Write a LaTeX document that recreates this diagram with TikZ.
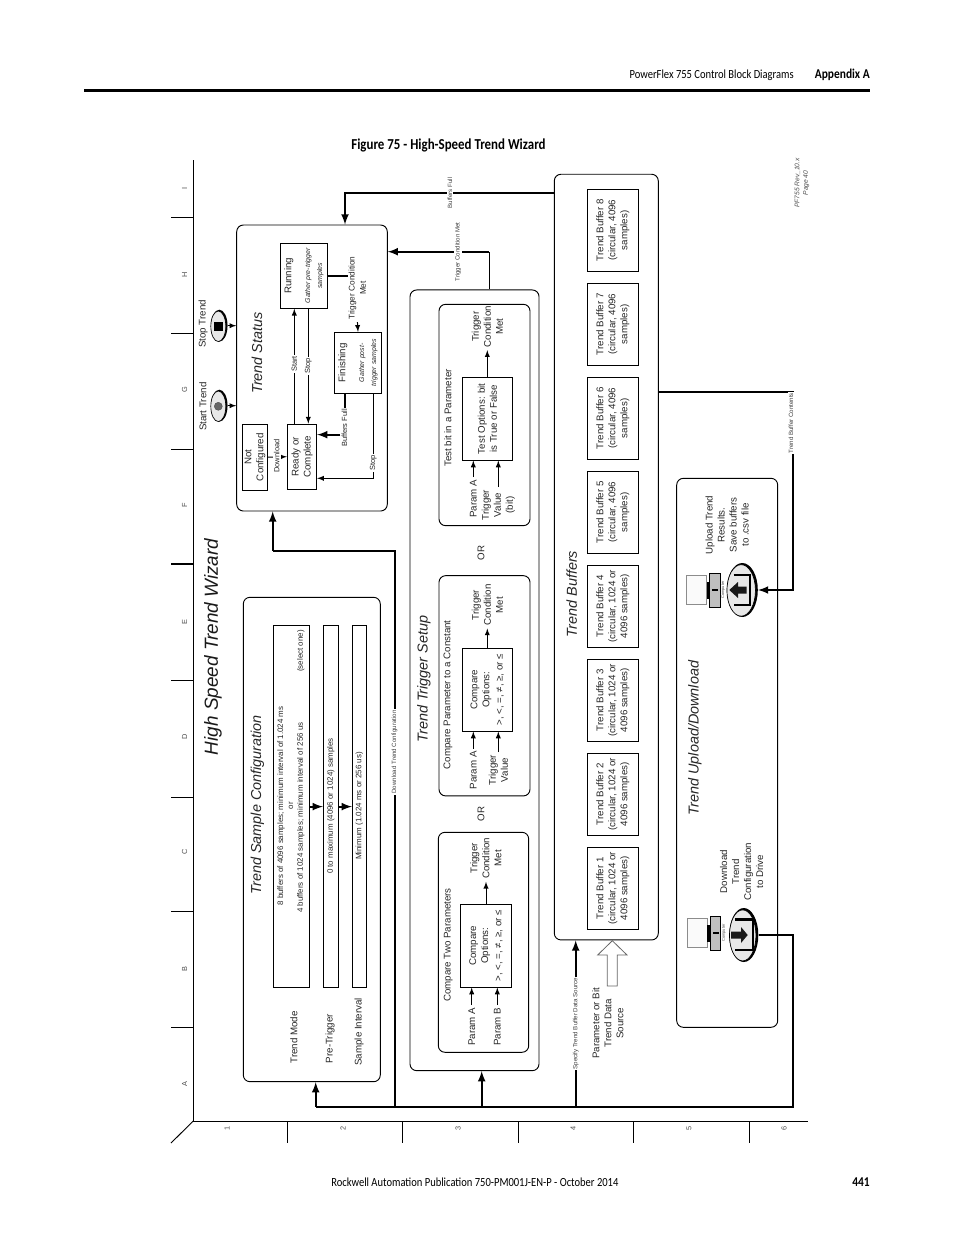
\documentclass[tikz,border=0pt]{standalone}
\usepackage{fontspec}
\setmainfont{Liberation Sans}
\newfontfamily\pagefont[FakeStretch=0.85]{Carlito}
\usetikzlibrary{shapes.geometric}
\newcommand{\gatherfont}{\fontsize{5.2}{6.8}\selectfont\itshape}

\tikzset{
  boxdim/.style 2 args={minimum width=#1*0.75pt, minimum height=#2*0.75pt},
  panel/.style={draw, rotate=90, rounded corners=5pt, line width=0.7pt},
  stepbox/.style={draw, rotate=90, align=center, inner sep=0pt, line width=0.7pt, text=black!85, font=\fontsize{7.3}{9}\selectfont},
  txt/.style={rotate=90, align=center, inner sep=0pt, text=black!85, font=\fontsize{7.3}{9}\selectfont},
  heading/.style={rotate=90, inner sep=0pt, text=black!85, font=\fontsize{10.8}{13}\selectfont\itshape},
  tag/.style={rotate=90, align=center, inner sep=0.8pt, fill=white, text=black!85, font=\fontsize{5.6}{7}\selectfont},
  modetxt/.style={rotate=90, inner sep=0pt, text=black!85, font=\fontsize{5.95}{7}\selectfont},
  smalltag/.style={rotate=90, inner sep=0.8pt, fill=white, text=black!75, font=\fontsize{4.6}{6}\selectfont},
  grid/.style={rotate=90, inner sep=0pt, text=black!70, font=\fontsize{5.5}{7}\selectfont},
  pagetxt/.style={inner sep=0pt, font=\pagefont\fontsize{9.3}{11}\selectfont},
  pagebold/.style={inner sep=0pt, font=\pagefont\bfseries\fontsize{10.1}{12}\selectfont},
  flow/.style={line width=0.75pt, -latex},
  gapflow/.style={line width=0.75pt, -latex, shorten <=1.8pt},
  wire/.style={line width=1.6pt},
  bigflow/.style={line width=1.6pt, -latex},
  btnback/.style={ellipse, fill=black, inner sep=0pt},
  btnface/.style={ellipse, draw, fill=black!9, line width=0.5pt, inner sep=0pt},
  glyph/.style={fill=black!90, draw=none},
}

\begin{document}
\begin{tikzpicture}[x=0.75pt, y=-0.75pt]
\useasboundingbox (0,0) rectangle (954,1235);

% page furniture
\node[pagetxt, anchor=east] (hdr) at (794,75) {PowerFlex 755 Control Block Diagrams};
\node[pagebold, anchor=east] (app) at (870,75) {Appendix A};
\coordinate (ruleL) at (84,90.5);
\coordinate (ruleR) at (870,90.5);
\draw[line width=2.7pt] (ruleL) -- (ruleR);
\node[pagebold, font=\pagefont\bfseries\fontsize{11.4}{13}\selectfont] (figtitle) at (448.5,145) {Figure 75 - High-Speed Trend Wizard};
\node[pagetxt, anchor=west] (ftr) at (331,1182) {Rockwell Automation Publication 750-PM001J-EN-P - October 2014};
\node[pagebold, anchor=east] (pgno) at (870,1182) {441};

% grid frame
\coordinate (org) at (193.3,1121);
\draw[line width=0.7pt] (193.3,160) -- (org) -- (807.5,1121);
\draw[line width=0.7pt] (org) -- (171,1143);
\foreach \ty in {217.7,333,449,680,797,911,1027}
  \draw[line width=0.7pt] (171,\ty) -- (193.3,\ty);
\draw[line width=1.2pt] (171,564) -- (193.3,564);
\foreach \tx in {287.3,402.3,518.3,633.3,749.3}
  \draw[line width=0.7pt] (\tx,1121) -- (\tx,1143);
\foreach \gl/\gy in {I/188,H/275,G/390,F/505,E/622,D/737,C/852,B/969,A/1084}
  \node[grid] (row\gl) at (184.5,\gy) {\gl};
\foreach \gl/\gx in {1/227,2/343,3/458,4/573,5/689,6/784}
  \node[grid] (col\gl) at (\gx,1128) {\gl};

\node[rotate=90, inner sep=0pt, text=black!90, font=\fontsize{14.2}{17}\selectfont\itshape] (wiztitle) at (213,647) {High Speed Trend Wizard};
\node[rotate=90, align=center, inner sep=0pt, text=black!70, font=\fontsize{5}{6.5}\selectfont\itshape] (revtag) at (802,183) {PF755 Rev\_10.x\\Page 40};

% panels
\node[panel, boxdim={286}{150.6}] (pstatus) at (312,368) {};
\node[panel, boxdim={484.4}{137}] (psample) at (311.8,839.5) {};
\node[panel, boxdim={780.7}{129}] (ptrigger) at (474.5,680.3) {};
\node[panel, boxdim={765.7}{104}] (pbuffers) at (606.3,557.1) {};
\node[panel, boxdim={549}{101}] (pupload) at (727.2,752.8) {};
\node[panel, boxdim={221.4}{91}] (ptestbit) at (484.5,415) {};
\node[panel, boxdim={220.3}{91}] (pconst) at (484.5,685.8) {};
\node[panel, boxdim={220}{90.4}] (ptwo) at (483.5,942.3) {};

\node[heading] (hstatus) at (257,353) {Trend Status};
\node[heading] (hsample) at (257.3,804.7) {Trend Sample Configuration};
\node[heading] (htrigger) at (424,679) {Trend Trigger Setup};
\node[heading] (hbuffers) at (571.7,594) {Trend Buffers};
\node[heading] (hupload) at (695,738) {Trend Upload/Download};

% trend status
\node[txt] (lblstart) at (203,406.7) {Start Trend};
\node[txt] (lblstop) at (203,324) {Stop Trend};
\node[btnback, boxdim={16.5}{32}] (startb) at (219.3,405.7) {};
\node[btnface, boxdim={15}{30.5}] (startf) at (218.3,406.3) {};
\node[btnback, boxdim={16.5}{32}] (stopb) at (219.3,325.7) {};
\node[btnface, boxdim={15}{30.5}] (stopf) at (218.3,326.3) {};
\node[circle, fill=black!60, draw=black!70, line width=0.3pt, minimum size=6pt, inner sep=0pt] (startdot) at (218.3,406.3) {};
\node[rectangle, fill=black, minimum width=6.8pt, minimum height=7pt, inner sep=0pt] (stopsq) at (218.5,326.7) {};
\draw[flow] (startb.east) -- (startb.east -| pstatus.north);
\draw[flow] (stopb.east) -- (stopb.east -| pstatus.north);

\node[stepbox, boxdim={65.7}{25.4}] (notcfg) at (255,457.2) {Not\\Configured};
\node[stepbox, boxdim={65.3}{29.4}] (ready) at (302,456.7) {Ready or\\Complete};
\node[stepbox, boxdim={65}{47.4}] (running) at (304,275.8) {Running\\[5pt]\gatherfont Gather pre-trigger\\\gatherfont samples};
\node[stepbox, boxdim={61}{47.4}] (finishing) at (358,362.8) {Finishing\\[5pt]\gatherfont Gather post-\\\gatherfont trigger samples};
\draw[flow] (294.3,0 |- ready.east) -- (294.3,0 |- running.west);
\draw[flow] (308.3,0 |- running.west) -- (308.3,0 |- ready.east);
\draw[flow] (notcfg.south) -- (ready.north);
\node[tag] (tstart) at (294.3,364) {Start};
\node[tag] (tstop) at (308.3,366) {Stop};
\node[tag] (tdown) at (276.7,456) {Download};
\node[txt, font=\fontsize{6.2}{8.5}\selectfont] (ttrig) at (357.3,288) {Trigger Condition\\Met};
\draw[wire] (running.south) -- (running.south -| ttrig.north);
\draw[gapflow] (ttrig.west) -- (finishing.east);
\node[tag] (tbfull) at (344.5,428) {Buffers Full};
\draw[wire] (345,0 |- finishing.west) -- (345,0 |- tbfull.east);
\draw[bigflow] ([yshift=-5pt]tbfull.north) -- ([yshift=-5pt]tbfull.north -| ready.south);
\draw[flow] (373.3,0 |- finishing.west) |- (ready.south |- 0,478.3);
\node[tag] (tstop2) at (373.3,463) {Stop};

% sample configuration
\node[stepbox, boxdim={361.3}{36.4}] (modebox) at (291.5,806.6) {};
\node[stepbox, boxdim={361.3}{15.4}] (prebox) at (331,806.6) {};
\node[stepbox, boxdim={361.3}{14.4}] (intbox) at (359.5,806.6) {};
\node[modetxt] (m1) at (281,806) {8 buffers of 4096 samples; minimum interval of 1.024 ms};
\node[modetxt] (m2) at (291,805.7) {or};
\node[modetxt] (m3) at (300.7,817.7) {4 buffers of 1024 samples; minimum interval of 256 us};
\node[modetxt] (m4) at (300.7,651) {(select one)};
\node[modetxt] (m5) at (330.7,806) {0 to maximum (4096 or 1024) samples};
\node[modetxt] (m6) at (359.3,806) {Minimum (1.024 ms or 256 us)};
\draw[bigflow] (modebox.south) -- (prebox.north);
\draw[bigflow] (prebox.south) -- (intbox.north);
\node[txt] (lmode) at (294,1037.5) {Trend Mode};
\node[txt] (lpre) at (330,1038.7) {Pre-Trigger};
\node[txt] (lint) at (359,1031.7) {Sample Interval};

% trigger setup, test bit
\node[txt] (tbit) at (448,418) {Test bit in a Parameter};
\node[stepbox, boxdim={82.7}{50}] (optbit) at (487.3,418.7) {Test Options: bit\\is True or False};
\node[txt] (metbit) at (487.3,326.7) {Trigger\\Condition\\Met};
\draw[flow] (optbit.east) -- ([yshift=-2pt]metbit.west);
\node[txt] (abit) at (473.3,498.7) {Param A};
\node[txt] (vbit) at (498.3,505) {Trigger\\Value\\(bit)};
\draw[gapflow] (abit.east) -- (abit.east |- optbit.west);
\draw[gapflow] (vbit.east) -- (vbit.east |- optbit.west);
\node[txt] (or1) at (481,553) {OR};

% trigger setup, constant
\node[txt] (tconst) at (448,694.7) {Compare Parameter to a Constant};
\node[stepbox, boxdim={82.7}{50}] (optconst) at (487.3,689.7) {Compare\\Options:\\[1pt]>, <, =, ≠, ≥, or ≤};
\node[txt] (metconst) at (487.3,605) {Trigger\\Condition\\Met};
\draw[flow] (optconst.east) -- ([yshift=-2pt]metconst.west);
\node[txt] (aconst) at (473.3,770.3) {Param A};
\node[txt] (vconst) at (498.3,770) {Trigger\\Value};
\draw[gapflow] (aconst.east) -- (aconst.east |- optconst.west);
\draw[gapflow] (vconst.east) -- (vconst.east |- optconst.west);
\node[txt] (or2) at (481,814) {OR};

% trigger setup, two parameters
\node[txt] (ttwo) at (448.3,945) {Compare Two Parameters};
\node[stepbox, boxdim={82.7}{50.6}] (opttwo) at (486,945.7) {Compare\\Options:\\[1pt]>, <, =, ≠, ≥, or ≤};
\node[txt] (mettwo) at (486,858.3) {Trigger\\Condition\\Met};
\draw[flow] (opttwo.east) -- ([yshift=-2pt]mettwo.west);
\node[txt] (atwo) at (471.7,1026.7) {Param A};
\node[txt] (btwo) at (497.3,1026.7) {Param B};
\draw[gapflow] (atwo.east) -- (atwo.east |- opttwo.west);
\draw[gapflow] (btwo.east) -- (btwo.east |- opttwo.west);

% trend buffers
\foreach \n/\by in {1/888.3,2/794.3,3/700.3,4/606.3}
  \node[stepbox, boxdim={82}{51}] (buf\n) at (612.8,\by) {Trend Buffer \n\\(circular, 1024 or\\4096 samples)};
\foreach \n/\by in {5/512.3,6/418.3,7/324.3,8/230.3}
  \node[stepbox, boxdim={82}{51}] (buf\n) at (612.8,\by) {Trend Buffer \n\\(circular, 4096\\samples)};
\draw[draw=black!60, fill=white, line width=0.6pt] (612.3,940.7) -- (627,955) -- (617.3,955) -- (617.3,986) -- (607.3,986) -- (607.3,955) -- (597.7,955) -- cycle;
\node[txt] (lsource) at (608,1023.3) {Parameter or Bit\\Trend Data\\Source};

% upload and download
\foreach \cy/\cx in {590/0,933/0.6} {
  \draw[draw=black!45, fill=black!2, line width=0.6pt] (686.7+\cx,\cy-15) rectangle (706.7+\cx,\cy+14);
  \fill[black] (706.7+\cx,\cy-8) rectangle (710+\cx,\cy+9);
  \draw[fill=black!25, line width=0.6pt] (709.7+\cx,\cy-17) rectangle (720+\cx,\cy+17);
  \fill[black] (712+\cx,\cy-0.8) rectangle (718+\cx,\cy+0.8);
  \node[rotate=90, inner sep=0pt, text=black!70, font=\fontsize{3}{3.5}\selectfont] at (723.2+\cx,\cy) {Computer};
}
\node[btnback, boxdim={31}{54}] (upb) at (742.3,590) {};
\node[btnface, boxdim={28.5}{51.5}] (upf) at (741.2,590.4) {};
\node[btnback, boxdim={29}{54}] (dlb) at (743.8,935) {};
\node[btnface, boxdim={26.5}{51}] (dlf) at (742.7,935.4) {};
\draw[line width=1.8pt] (733.7,575) -- (749.7,575) -- (749.7,605) -- (733.7,605);
\fill[glyph] (729.3,590) -- (738,582) -- (738,586.5) -- (746.5,586.5) -- (746.5,593.5) -- (738,593.5) -- (738,598) -- cycle;
\draw[line width=1.8pt] (735,919.3) -- (752.7,919.3) -- (752.7,950) -- (735,950);
\fill[glyph] (747.7,935) -- (741,927) -- (741,931.5) -- (731,931.5) -- (731,938.5) -- (741,938.5) -- (741,943) -- cycle;
\node[txt] (lup) at (727.2,525) {Upload Trend\\Results.\\Save buffers\\to .csv file};
\node[txt] (ldown) at (741.7,871.7) {Download\\Trend\\Configuration\\to Drive};

% main connections
\coordinate (busL) at (315.7,1106.7);
\coordinate (busR) at (793.3,1106.7);
\coordinate (dlcorner) at (272.7,550.7);
\draw[wire] (dlb.east) -| (busR) -- (busL);
\draw[bigflow] (busL) -- (busL |- psample.west);
\draw[bigflow] (481.7,0 |- busL) -- (481.7,0 |- ptrigger.west);
\draw[bigflow] (575.7,0 |- busL) -- (575.7,0 |- pbuffers.west);
\draw[wire] (395,0 |- busL) |- (dlcorner);
\draw[bigflow] (dlcorner) -- (dlcorner |- pstatus.west);
\draw[bigflow] (pbuffers.north |- 0,192.7) -| (345,0 |- pstatus.east);
\draw[bigflow] (489.3,251.7) -- (pstatus.south |- 0,251.7);
\draw[line width=1pt] (489.3,0 |- ptrigger.east) -- (489.3,251.7);
\draw[bigflow] (pbuffers.south |- 0,391.7) -| (793.3,590) -- (upb.east);

\node[smalltag] (sfull) at (450,193) {Buffers Full};
\node[smalltag] (strig) at (458,252) {Trigger Condition Met};
\node[smalltag] (sdown) at (394.5,752) {Download Trend Configuration};
\node[smalltag] (sspec) at (575.7,1023.7) {Specify Trend Buffer Data Source};
\node[smalltag] (scont) at (791,423) {Trend Buffer Contents};
\end{tikzpicture}
\end{document}
